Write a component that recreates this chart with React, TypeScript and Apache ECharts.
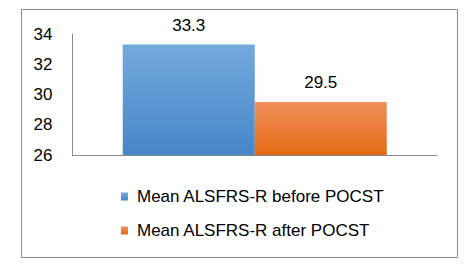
import React, { useEffect, useRef } from "react";
import * as echarts from "echarts";

const categories = ["ALSFRS-R"];
const seriesNames = ["Mean ALSFRS-R before POCST", "Mean ALSFRS-R after POCST"];
const beforeValues = [33.3];
const afterValues = [29.5];
const yTicks = { min: 26, max: 34, interval: 2 };

const FONT = "'Liberation Sans', Arial, sans-serif";

const grad = (top: string, bottom: string) =>
  new echarts.graphic.LinearGradient(0, 0, 0, 1, [
    { offset: 0, color: top },
    { offset: 1, color: bottom },
  ]);

export default function App() {
  const ref = useRef<HTMLDivElement>(null);
  useEffect(() => {
    document.body.style.margin = "0";
    const chart = echarts.init(ref.current!, undefined, { renderer: "svg" });
    chart.setOption({
      animation: false,
      backgroundColor: "#ffffff",
      graphic: [
        {
          type: "rect",
          shape: { x: 21.5, y: 9.5, width: 436, height: 248 },
          style: { fill: "none", stroke: "#8a8a8a", lineWidth: 1 },
          z: -1,
        },
      ],
      grid: { left: 72.5, right: 33, top: 34, bottom: 111, containLabel: false },
      legend: {
        orient: "vertical",
        left: 116,
        top: 183,
        itemWidth: 7,
        itemHeight: 8,
        itemGap: 17,
        icon: "rect",
        textStyle: { fontFamily: FONT, fontSize: 17, color: "#000", padding: [0, 0, 0, 4] },
        data: seriesNames,
      },
      xAxis: {
        type: "category",
        data: categories,
        axisLine: { lineStyle: { color: "#8a8a8a", width: 1 } },
        axisTick: { show: false },
        axisLabel: { show: false },
      },
      yAxis: {
        type: "value",
        min: yTicks.min,
        max: yTicks.max,
        interval: yTicks.interval,
        splitLine: { show: false },
        axisLine: { show: true, lineStyle: { color: "#8a8a8a", width: 1 } },
        axisTick: { show: false },
        axisLabel: { fontFamily: FONT, fontSize: 17, color: "#000", margin: 20 },
      },
      series: [
        {
          name: seriesNames[0],
          type: "bar",
          data: beforeValues,
          barWidth: 132,
          barGap: "0%",
          itemStyle: { color: grad("#74a9de", "#4686c8") },
          label: {
            show: true,
            position: "top",
            distance: 11,
            fontFamily: FONT,
            fontSize: 17,
            color: "#000",
          },
        },
        {
          name: seriesNames[1],
          type: "bar",
          data: afterValues,
          barWidth: 132,
          barGap: "0%",
          itemStyle: { color: grad("#f0905c", "#e36a14") },
          label: {
            show: true,
            position: "top",
            distance: 11,
            fontFamily: FONT,
            fontSize: 17,
            color: "#000",
          },
        },
      ],
    });
    return () => chart.dispose();
  }, []);
  return (
    <div
      ref={ref}
      style={{ position: "absolute", left: 0, top: 0, width: 470, height: 266 }}
    />
  );
}
